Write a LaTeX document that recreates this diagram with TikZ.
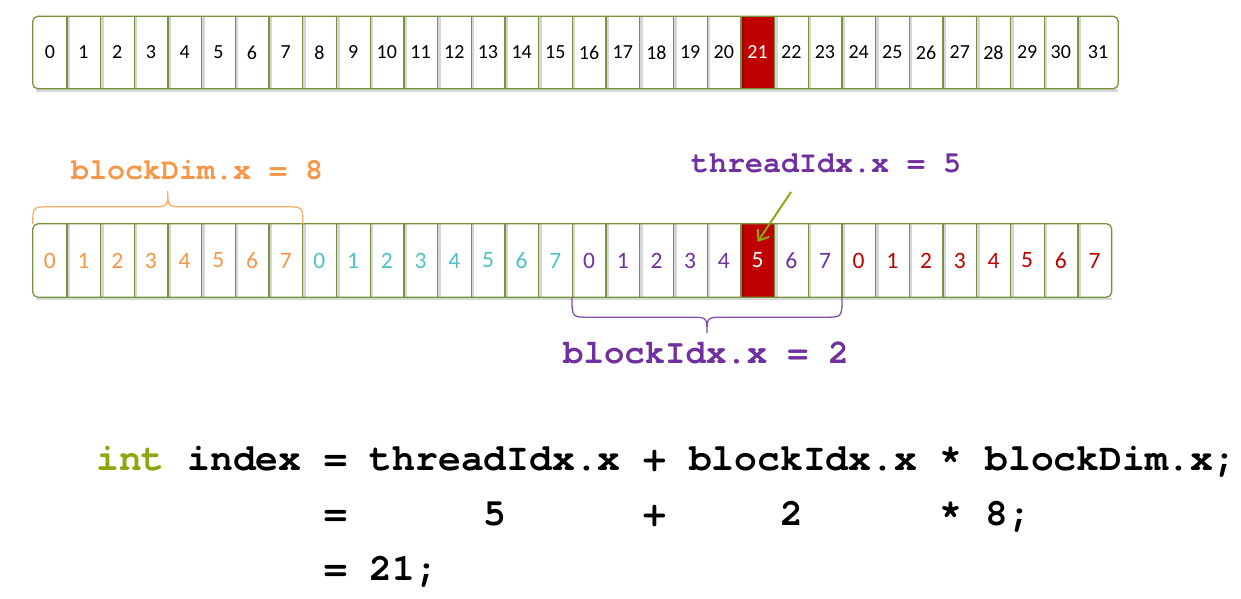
\documentclass[tikz,border=0pt]{standalone}
\usepackage{fontspec}
\setmainfont{Carlito}
\newfontfamily\codefont{TeX Gyre Cursor}
\usepackage{tikz}
\usetikzlibrary{arrows.meta,calc,positioning}
\definecolor{frameg}{RGB}{119,147,60}
\definecolor{hotred}{RGB}{192,0,0}
\definecolor{dimc}{RGB}{247,150,70}
\definecolor{tealc}{RGB}{78,194,200}
\definecolor{idc}{RGB}{112,48,160}
\definecolor{intc}{RGB}{139,168,15}
\definecolor{obrc}{RGB}{249,172,104}
\definecolor{pbrc}{RGB}{128,80,176}
\newcommand\toprowfont{\fontsize{20}{23}\selectfont}
\newcommand\midrowfont{\fontsize{23.5}{27}\selectfont}
\tikzset{cell/.style={minimum width=33.7pt, minimum height=72pt, inner sep=0pt}}
\tikzset{frame/.style={draw=frameg, line width=1.3pt}}
\tikzset{shade/.style={draw=black, opacity=0.16, line width=2.5pt}}
\tikzset{lbl/.style={font=\codefont\bfseries\fontsize{30}{36}\selectfont, inner sep=0pt}}
\tikzset{codeline/.style={font=\codefont\bfseries\fontsize{38}{45}\selectfont, anchor=base west, inner sep=0pt}}
\tikzset{pointer/.style={draw=intc, line width=2pt, -{Straight Barb[length=9pt, width=14pt]}}}

\begin{document}
\begin{tikzpicture}[x=1pt,y=-1pt]
  \useasboundingbox (0,0) rectangle (1241,598);

  % global thread index row
  \foreach \i in {0,...,30}{
    \ifnum\i=21 \def\fc{hotred}\def\tc{white}\else\def\fc{white}\def\tc{black}\fi
    \node[cell, fill=\fc, text=\tc, font=\toprowfont] (t\i) at ({49.85+33.7*\i},52.5) {\i};
  };
  \node[cell, fill=white, font=\toprowfont, minimum width=40pt] (t31) at (1098,52.5) {31};
  \foreach \i in {0,...,30}{
    \draw[shade] ([xshift=1.8pt]t\i.north east) -- ([xshift=1.8pt]t\i.south east);
  };
  \draw[shade] ([xshift=3pt,yshift=-2pt]t0.south west) -- ([yshift=-2pt]t31.south east);
  \foreach \i in {0,...,30}{
    \draw[frame] (t\i.north east) -- (t\i.south east);
  };
  \draw[frame, rounded corners=5pt] (t0.north west) rectangle (t31.south east);

  % blocks of 8 threads
  \foreach \b/\col in {0/dimc,1/tealc,2/idc,3/hotred}{
    \foreach \k in {0,...,7}{
      \pgfmathtruncatemacro\idx{8*\b+\k}
      \ifnum\idx=21 \def\fc{hotred}\def\tc{white}\else\def\fc{white}\def\tc{\col}\fi
      \node[cell, fill=\fc, text=\tc, font=\midrowfont, minimum height=73pt] (m\idx) at ({49.85+33.7*\idx},260.5) {\k};
    };
  };
  \foreach \i in {0,...,30}{
    \draw[shade] ([xshift=1.8pt]m\i.north east) -- ([xshift=1.8pt]m\i.south east);
  };
  \draw[shade] ([xshift=3pt,yshift=-2pt]m0.south west) -- ([yshift=-2pt]m31.south east);
  \foreach \i in {0,...,30}{
    \draw[frame] (m\i.north east) -- (m\i.south east);
  };
  \draw[frame, rounded corners=5pt] (m0.north west) rectangle (m31.south east);

  % braces
  \coordinate (ob) at ($(m0.north west)!0.5!(m7.north east)$);
  \draw[obrc, line width=1.3pt] (m0.north west) .. controls +(0,-17) and +(-17,0) .. ([shift={(17,-17)}]m0.north west)
    -- ([shift={(-17,-17)}]ob) .. controls +(17,0) and +(0,16) .. ([yshift=33pt]ob)
    .. controls +(0,16) and +(-17,0) .. ([shift={(17,-17)}]ob)
    -- ([shift={(-17,-17)}]m7.north east) .. controls +(17,0) and +(0,-17) .. (m7.north east);
  \coordinate (pb) at ($(m16.south west)!0.5!(m23.south east)$);
  \draw[pbrc, line width=1.3pt] (m16.south west) .. controls +(0,20) and +(-17,0) .. ([shift={(17,20)}]m16.south west)
    -- ([shift={(-17,20)}]pb) .. controls +(17,0) and +(0,-16) .. ([yshift=-36pt]pb)
    .. controls +(0,-16) and +(-17,0) .. ([shift={(17,20)}]pb)
    -- ([shift={(-17,20)}]m23.south east) .. controls +(17,0) and +(0,20) .. (m23.south east);

  % labels
  \node[lbl, text=dimc] (dim) at (197,170) {blockDim.x = 8};
  \node[lbl, text=idc] (thr) at (826,163) {threadIdx.x = 5};
  \node[lbl, text=idc, font=\codefont\bfseries\fontsize{34}{40}\selectfont] (bid) at (706,353) {blockIdx.x = 2};
  \coordinate (tail) at (791,192);
  \draw[pointer] (tail) -- ([yshift=-18pt]m21.north);

  % the index formula
  \node[codeline] (c1) at (96,470) {\textcolor{intc}{int} index = threadIdx.x + blockIdx.x * blockDim.x;};
  \node[codeline] (c2) at ([yshift=-55pt]c1.base west) {\hphantom{0000000000}=\hphantom{000000}5\hphantom{000000}+\hphantom{00000}2\hphantom{000000}*\hphantom{0}8;};
  \node[codeline] (c3) at ([yshift=-55pt]c2.base west) {\hphantom{0000000000}= 21;};
\end{tikzpicture}
\end{document}
